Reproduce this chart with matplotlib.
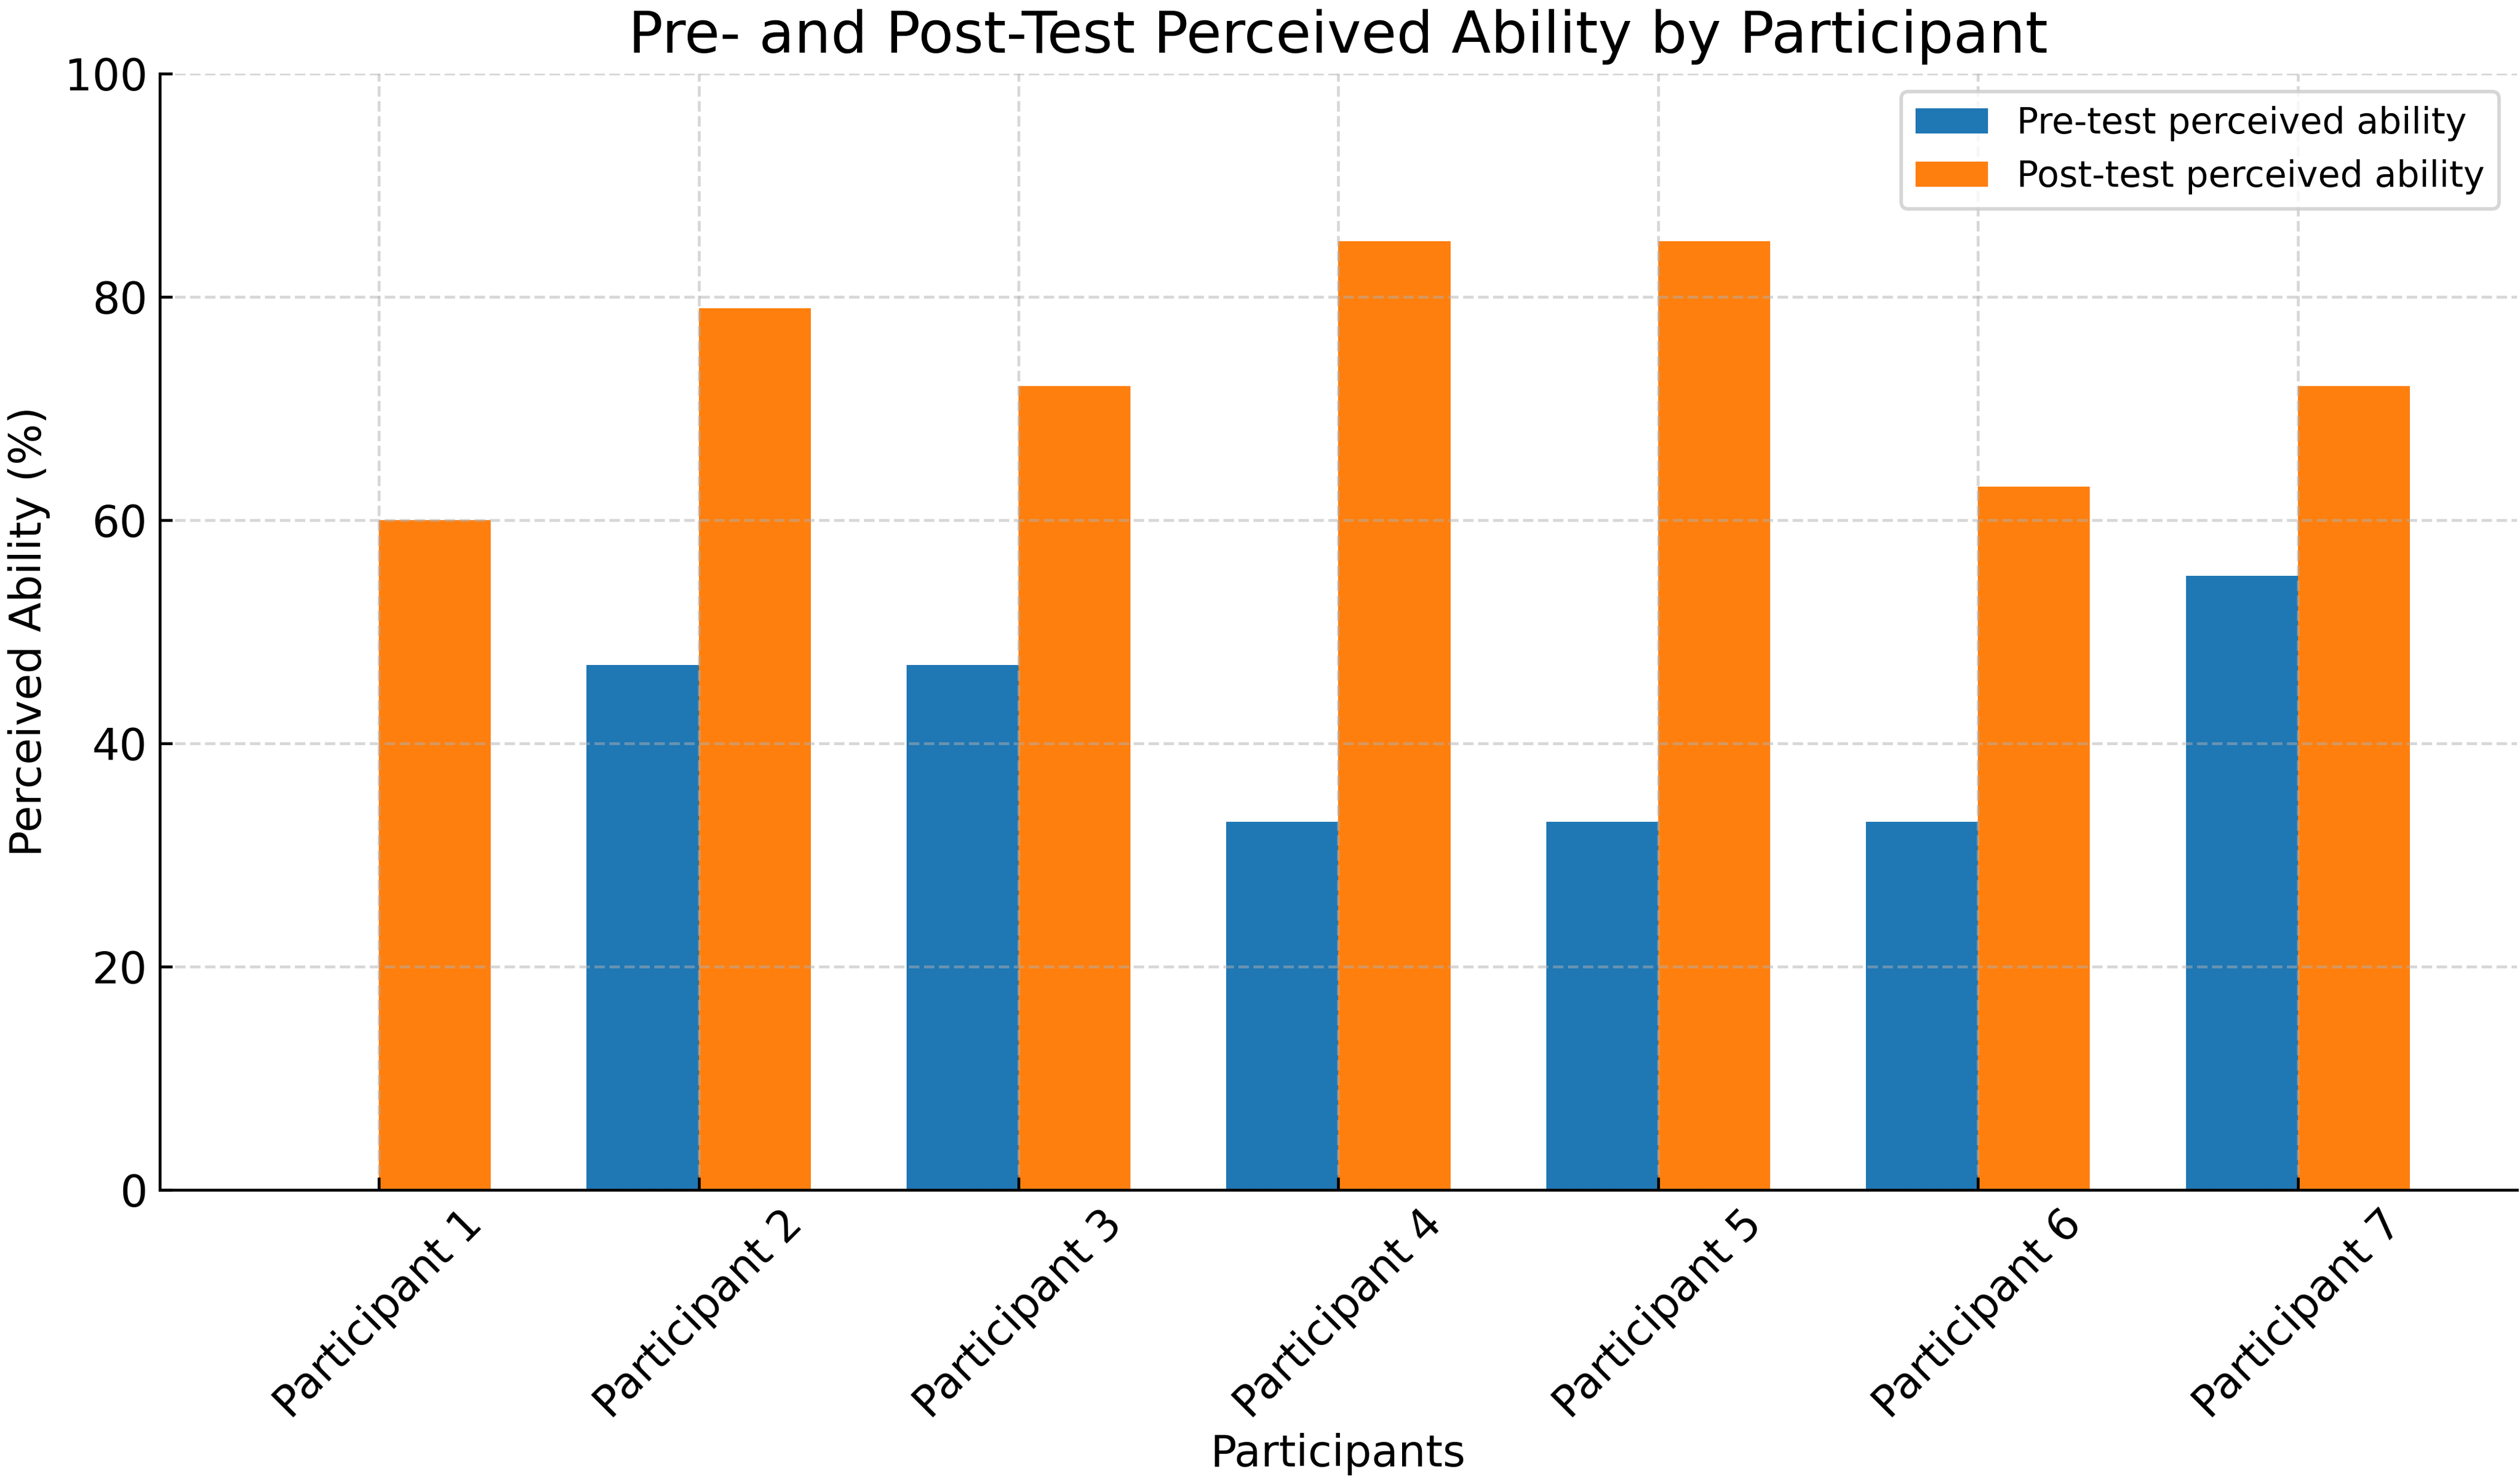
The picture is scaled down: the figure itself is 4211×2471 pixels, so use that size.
import matplotlib
matplotlib.use("Agg")
import matplotlib.pyplot as plt
import numpy as np

participants = ["Participant 1", "Participant 2", "Participant 3", "Participant 4",
                "Participant 5", "Participant 6", "Participant 7"]
pre_test = [0, 47, 47, 33, 33, 33, 55]
post_test = [60, 79, 72, 85, 85, 63, 72]

DPI = 425
fig = plt.figure(figsize=(4211 / DPI, 2471 / DPI), dpi=DPI)
ax = fig.add_axes([0.0634, 0.1955, 0.9988 - 0.0634, 0.9502 - 0.1955])

x = np.arange(len(participants))
width = 0.35
ax.bar(x - width / 2, pre_test, width, label="Pre-test perceived ability", color="#1f77b4")
ax.bar(x + width / 2, post_test, width, label="Post-test perceived ability", color="#ff7f0e")

ax.set_ylim(0, 100)
ax.set_xticks(x)
ax.set_xticklabels(participants, rotation=45, ha="center", fontsize=12.3)
ax.tick_params(axis="both", direction="in", labelsize=12.3)
ax.set_xlabel("Participants", fontsize=12.3, va="top")
ax.xaxis.set_label_coords(0.5, -0.218)
ax.set_ylabel("Perceived Ability (%)", fontsize=12.3)
ax.set_title("Pre- and Post-Test Perceived Ability by Participant", fontsize=16.3)
ax.grid(True, linestyle="--", color="#b0b0b0", alpha=0.5)
ax.spines["top"].set_visible(False)
ax.spines["right"].set_visible(False)
ax.legend(loc="upper right", fontsize=10.2)

fig.savefig("out.png", dpi=DPI)
